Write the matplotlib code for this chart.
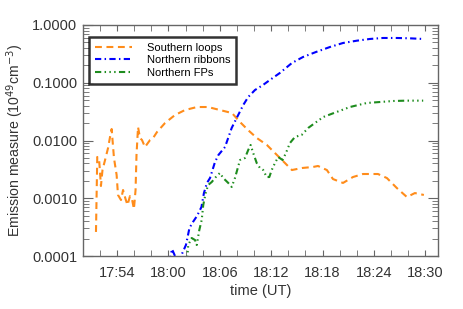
import matplotlib
matplotlib.use("Agg")
import matplotlib.pyplot as plt
from matplotlib.ticker import LogLocator, FixedLocator, NullFormatter

plt.rcParams['font.family'] = ['Liberation Sans', 'DejaVu Sans']

# time in minutes after 17:50 UT, emission measure in 1e49 cm^-3
loops_t = [1.55, 1.70, 1.90, 2.02, 2.13, 2.31, 2.61, 2.96, 3.19, 3.38, 3.65, 3.96,
           4.12, 4.47, 4.71, 5.00, 5.23, 5.52, 5.75, 5.98, 6.17, 6.28, 6.46, 6.69,
           6.92, 7.27, 7.86, 8.21, 8.67, 9.61, 10.77, 11.94, 13.34, 14.62, 16.02,
           17.42, 18.36, 19.29, 20.34, 21.50, 22.67, 23.61, 24.42, 25.59, 26.88,
           27.46, 28.50, 29.21, 30.38, 31.54, 32.71, 34.46, 35.50, 36.67, 37.84,
           38.77, 39.82]
loops_em = [2.61e-4, 5.18e-3, 4.98e-3, 2.85e-3, 1.63e-3, 3.08e-3, 4.59e-3, 7.41e-3,
            1.15e-2, 1.58e-2, 4.98e-3, 2.53e-3, 1.14e-3, 9.33e-4, 1.39e-3, 9.70e-4,
            7.64e-4, 1.09e-3, 9.70e-4, 6.52e-4, 1.39e-3, 5.61e-3, 1.71e-2, 1.10e-2,
            1.02e-2, 7.71e-3, 1.02e-2, 1.10e-2, 1.40e-2, 2.01e-2, 2.76e-2, 3.37e-2,
            3.80e-2, 3.80e-2, 3.37e-2, 2.99e-2, 2.09e-2, 1.52e-2, 1.10e-2, 8.36e-3,
            5.61e-3, 4.07e-3, 3.08e-3, 3.34e-3, 3.48e-3, 3.62e-3, 3.08e-3, 2.15e-3,
            1.84e-3, 2.33e-3, 2.63e-3, 2.63e-3, 2.24e-3, 1.50e-3, 1.05e-3, 1.23e-3,
            1.14e-3]

ribbons_t = [10.13, 10.42, 11.12, 12.05, 12.46, 12.87, 13.34, 13.86, 14.15, 14.50,
             14.86, 15.15, 15.44, 15.84, 16.61, 17.39, 17.97, 18.74, 19.32, 20.11,
             21.04, 21.86, 23.02, 24.42, 25.71, 27.23, 28.86, 30.38, 32.00, 33.52,
             35.04, 36.67, 38.19, 39.71]
ribbons_em = [7.9e-5, 1.32e-4, 7.6e-5, 1.55e-4, 3.05e-4, 3.88e-4, 4.93e-4, 7.05e-4,
              1.23e-3, 1.84e-3, 2.24e-3, 3.08e-3, 4.24e-3, 5.61e-3, 7.71e-3, 1.65e-2,
              2.45e-2, 4.12e-2, 5.67e-2, 7.49e-2, 9.14e-2, 0.112, 0.148, 0.220, 0.279,
              0.341, 0.416, 0.488, 0.535, 0.573, 0.596, 0.596, 0.588, 0.573]

fps_t = [12.17, 12.32, 12.72, 13.11, 13.31, 13.61, 13.89, 14.07, 14.38, 14.65, 15.06,
         15.64, 16.02, 16.40, 16.99, 17.39, 17.77, 18.36, 18.94, 19.32, 19.60, 19.90,
         20.31, 20.69, 21.07, 21.47, 21.78, 22.06, 22.44, 22.82, 23.33, 23.72, 24.19,
         24.77, 25.56, 26.32, 27.11, 28.07, 29.64, 31.19, 33.14, 34.69, 36.24, 37.81,
         39.74]
fps_em = [7.9e-5, 1.55e-4, 2.05e-4, 1.89e-4, 1.55e-4, 2.82e-4, 4.20e-4, 7.64e-4,
          1.28e-3, 1.70e-3, 1.91e-3, 2.43e-3, 2.74e-3, 2.24e-3, 1.84e-3, 1.57e-3,
          2.24e-3, 4.59e-3, 4.98e-3, 6.85e-3, 8.36e-3, 6.08e-3, 4.07e-3, 3.34e-3,
          3.08e-3, 2.33e-3, 2.33e-3, 3.08e-3, 4.07e-3, 5.18e-3, 4.59e-3, 6.08e-3,
          9.05e-3, 1.15e-2, 1.25e-2, 1.65e-2, 2.01e-2, 2.55e-2, 3.12e-2, 3.80e-2,
          4.46e-2, 4.64e-2, 4.83e-2, 4.90e-2, 4.90e-2]

tick_pos = [4, 10, 16, 22, 28, 34, 40]
tick_labels = ['17:54', '18:00', '18:06', '18:12', '18:18', '18:24', '18:30']
ytick_vals = [1e-4, 1e-3, 1e-2, 1e-1, 1.0]
ytick_labels = ['0.0001', '0.0010', '0.0100', '0.1000', '1.0000']

fig = plt.figure(figsize=(4.63, 3.09), dpi=100)
ax = fig.add_axes([0.1786, 0.1715, 0.768, 0.7476])

ax.plot(loops_t, loops_em, color='#FF8C1A', lw=1.5, dashes=(3.3, 2.2),
        label='Southern loops')
ax.plot(ribbons_t, ribbons_em, color='#0000FF', lw=1.5, dashes=(3, 1.6, 0.7, 1.6),
        label='Northern ribbons')
ax.plot(fps_t, fps_em, color='#1E8C1E', lw=1.5,
        dashes=(3, 1.6, 0.7, 1.6, 0.7, 1.6, 0.7, 1.6), label='Northern FPs')

ax.set_yscale('log')
ax.set_ylim(1e-4, 1.0)
ax.set_xlim(0, 41.5)

ax.yaxis.set_major_locator(FixedLocator(ytick_vals))
ax.set_yticklabels(ytick_labels)
ax.yaxis.set_minor_locator(LogLocator(base=10, subs=range(2, 10)))
ax.yaxis.set_minor_formatter(NullFormatter())
ax.set_xticks(tick_pos)
ax.set_xticklabels(tick_labels)
ax.set_xticks(range(0, 42, 2), minor=True)

axc = '#666666'
for s in ax.spines.values():
    s.set_color(axc)
    s.set_linewidth(1.0)
ax.tick_params(which='both', direction='in', top=True, right=True, color=axc,
               labelsize=10.5, labelcolor='#333333')
ax.tick_params(axis='y', which='major', length=7, pad=4)
ax.tick_params(axis='y', which='minor', length=4)
ax.tick_params(axis='x', which='both', length=4, pad=7)

ax.set_xlabel('time (UT)', fontsize=10.5, color='#333333', labelpad=3)
ax.set_ylabel(r'Emission measure (10$^{49}$cm$^{-3}$)', fontsize=10.2,
              color='#333333', labelpad=4)

leg = ax.legend(loc='upper left', bbox_to_anchor=(0.019, 0.948), fontsize=8,
                frameon=True, fancybox=False, handlelength=3.3, handletextpad=1.4,
                borderpad=0.5, labelspacing=0.25, borderaxespad=0)
leg.get_frame().set_edgecolor('black')
leg.get_frame().set_linewidth(1.8)

fig.savefig('out.png', dpi=100)
